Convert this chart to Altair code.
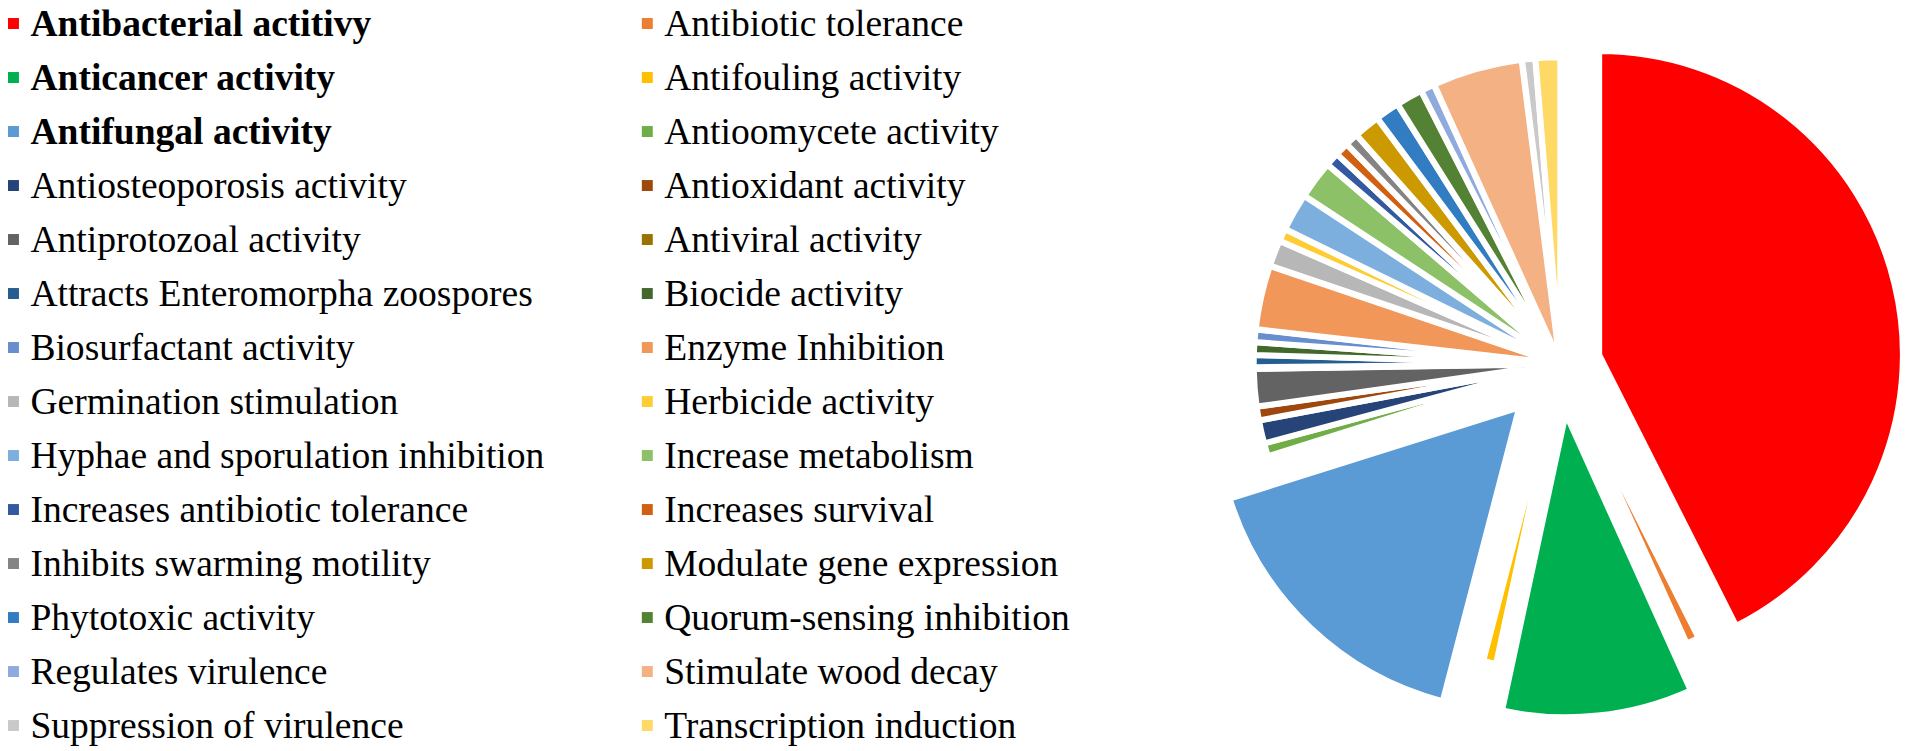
import math
import altair as alt
import pandas as pd

# ---------------- data ----------------
CATEGORIES = [
    "Antibacterial actitivy", "Antibiotic tolerance", "Anticancer activity",
    "Antifouling activity", "Antifungal activity", "Antioomycete activity",
    "Antiosteoporosis activity", "Antioxidant activity", "Antiprotozoal activity",
    "Antiviral activity", "Attracts Enteromorpha zoospores", "Biocide activity",
    "Biosurfactant activity", "Enzyme Inhibition", "Germination stimulation",
    "Herbicide activity", "Hyphae and sporulation inhibition", "Increase metabolism",
    "Increases antibiotic tolerance", "Increases survival", "Inhibits swarming motility",
    "Modulate gene expression", "Phytotoxic activity", "Quorum-sensing inhibition",
    "Regulates virulence", "Stimulate wood decay", "Suppression of virulence",
    "Transcription induction",
]
# slice sizes (angle shares)
VALUES = [153.2, 2.5, 36.4, 2.5, 57.9, 2.5, 4.4, 2.6, 7.1, 0.3, 2.3, 2.4, 2.4, 12.2,
          5.0, 2.4, 7.2, 7.3, 2.6, 2.6, 2.5, 5.0, 4.6, 5.1, 2.6, 17.2, 2.5, 4.7]
COLORS = [
    "#FF0000", "#ED7D31", "#00B050", "#FFC000", "#5B9BD5", "#70AD47",
    "#264478", "#9E480E", "#636363", "#997300", "#255E91", "#43682B",
    "#698ED0", "#F1975A", "#B7B7B7", "#FFCD33", "#7CAFDD", "#8CC168",
    "#335AA1", "#D26012", "#848484", "#CC9A00", "#327DC2", "#548235",
    "#8FAADC", "#F4B183", "#C9C9C9", "#FFD966",
]

# ---------------- style ----------------
BOLD = {"Antibacterial actitivy", "Anticancer activity", "Antifungal activity"}
EXPLODE = {"Antibacterial actitivy": 40, "Anticancer activity": 50, "Antifungal activity": 60}
DEFAULT_EXPLODE = 3
LEG_W, PIE_W, H = 1184, 716, 743
CX, CY, R = 375, 356, 305
FONT = "Liberation Serif"
FS = 37.7

df = pd.DataFrame({"cat": CATEGORIES, "value": VALUES, "idx": list(range(len(CATEGORIES)))})
df["explode"] = [EXPLODE.get(c, DEFAULT_EXPLODE) for c in CATEGORIES]
df["bold"] = [c in BOLD for c in CATEGORIES]
total = float(sum(VALUES))

color_scale = alt.Scale(domain=CATEGORIES, range=COLORS)

# ---------------- exploded pie ----------------
pie = (
    alt.Chart(df)
    .transform_window(cum="sum(value)", sort=[alt.SortField("idx", order="ascending")])
    .transform_calculate(
        c0="datum.cum - datum.value",
        mid=f"(datum.cum - datum.value / 2) / {total} * 2 * PI",
    )
    .transform_calculate(
        px=f"{CX} + datum.explode * sin(datum.mid)",
        py=f"{CY} - datum.explode * cos(datum.mid)",
    )
    .mark_arc(outerRadius=R, stroke="white", strokeWidth=6, strokeJoin="round", clip=True)
    .encode(
        theta=alt.Theta("c0:Q", scale=alt.Scale(domain=[0, total], range=[0, 2 * math.pi]), stack=False),
        theta2="cum:Q",
        x=alt.X("px:Q", scale=None, axis=None, stack=False),
        y=alt.Y("py:Q", scale=None, axis=None, stack=False),
        color=alt.Color("cat:N", scale=color_scale, legend=None),
        order=alt.Order("idx:Q"),
    )
    .properties(width=PIE_W, height=H)
)

# ---------------- legend (two columns, row-major) ----------------
leg_base = (
    alt.Chart(df)
    .transform_calculate(col="datum.idx % 2", row="floor(datum.idx / 2)")
    .encode(
        x=alt.X("col:Q", scale=alt.Scale(domain=[0, 1], range=[5.5, 642], nice=False, zero=False), axis=None),
        y=alt.Y("row:Q", scale=alt.Scale(domain=[0, 13], range=[14, 719], nice=False, zero=False), axis=None),
    )
)
squares = leg_base.mark_square(size=121, opacity=1, filled=True).encode(
    color=alt.Color("cat:N", scale=color_scale, legend=None)
)
labels_normal = leg_base.transform_filter("!datum.bold").mark_text(
    align="left", baseline="alphabetic", dx=17, dy=12.5, clip=True,
    font=FONT, fontSize=FS, color="black",
).encode(text="cat:N")
labels_bold = leg_base.transform_filter("datum.bold").mark_text(
    align="left", baseline="alphabetic", dx=17, dy=12.5, clip=True,
    font=FONT, fontSize=FS, fontWeight="bold", color="black",
).encode(text="cat:N")

legend = alt.layer(squares, labels_normal, labels_bold).properties(width=LEG_W, height=H)

chart = (
    alt.hconcat(legend, pie, spacing=0)
    .properties(padding=0, background="white")
    .configure_view(strokeWidth=0)
)

chart.save("out.html", embed_options={"renderer": "svg", "actions": False})
